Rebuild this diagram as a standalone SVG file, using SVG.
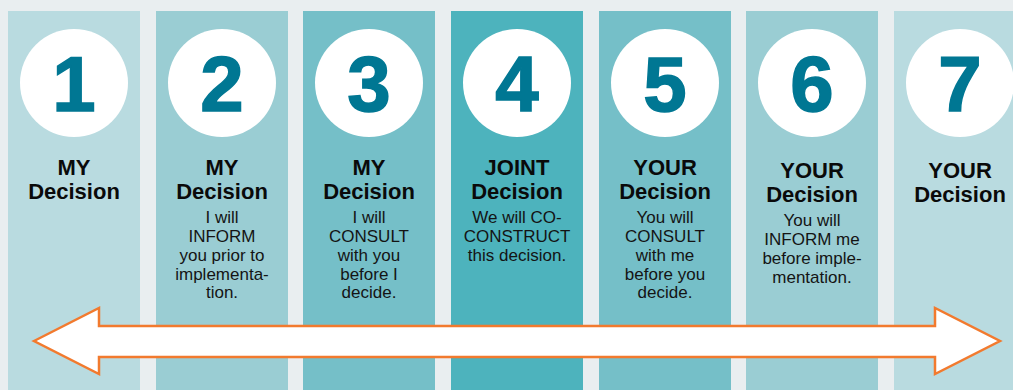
<svg xmlns="http://www.w3.org/2000/svg" width="1013" height="390" viewBox="0 0 1013 390">
  <style>
    .bg { fill: #e9eef0; }
    .c1 { fill: #b9dbe0; }
    .c2 { fill: #9acdd3; }
    .c3 { fill: #75bfc8; }
    .c4 { fill: #4db3bd; }
    .disc { fill: #ffffff; }
    .num { font-family: "Liberation Sans", Arial, sans-serif; font-weight: bold; font-size: 78px; fill: #007793; text-anchor: middle; stroke: #007793; stroke-width: 1.5; }
    .title { font-family: "Liberation Sans", Arial, sans-serif; font-weight: bold; font-size: 22px; fill: #0a0a0a; text-anchor: middle; }
    .body { font-family: "Liberation Sans", Arial, sans-serif; font-size: 17px; fill: #141414; text-anchor: middle; }
    .arrow { fill: #ffffff; stroke: #f27a2e; stroke-width: 2.5; stroke-linejoin: miter; }
  </style>

  <rect class="bg" x="0" y="0" width="1013" height="390"/>

  <!-- 1 -->
  <g id="step1">
    <rect class="c1" x="8" y="11" width="132" height="379"/>
    <circle class="disc" cx="74" cy="83" r="54"/>
    <text class="num" x="74" y="111">1</text>
    <text class="title" x="74" y="175">MY</text>
    <text class="title" x="74" y="199">Decision</text>
  </g>

  <!-- 2 -->
  <g id="step2">
    <rect class="c2" x="156" y="11" width="132" height="379"/>
    <circle class="disc" cx="222" cy="83" r="54"/>
    <text class="num" x="222" y="111">2</text>
    <text class="title" x="222" y="175">MY</text>
    <text class="title" x="222" y="199">Decision</text>
    <text class="body" x="222" y="223">I will</text>
    <text class="body" x="222" y="242">INFORM</text>
    <text class="body" x="222" y="261">you prior to</text>
    <text class="body" x="222" y="280">implementa-</text>
    <text class="body" x="222" y="298">tion.</text>
  </g>

  <!-- 3 -->
  <g id="step3">
    <rect class="c3" x="303" y="11" width="132" height="379"/>
    <circle class="disc" cx="369" cy="83" r="54"/>
    <text class="num" x="369" y="111">3</text>
    <text class="title" x="369" y="175">MY</text>
    <text class="title" x="369" y="199">Decision</text>
    <text class="body" x="369" y="223">I will</text>
    <text class="body" x="369" y="242">CONSULT</text>
    <text class="body" x="369" y="261">with you</text>
    <text class="body" x="369" y="280">before I</text>
    <text class="body" x="369" y="298">decide.</text>
  </g>

  <!-- 4 -->
  <g id="step4">
    <rect class="c4" x="451" y="11" width="132" height="379"/>
    <circle class="disc" cx="517" cy="83" r="54"/>
    <text class="num" x="517" y="111">4</text>
    <text class="title" x="517" y="175">JOINT</text>
    <text class="title" x="517" y="199">Decision</text>
    <text class="body" x="517" y="223">We will CO-</text>
    <text class="body" x="517" y="242">CONSTRUCT</text>
    <text class="body" x="517" y="261">this decision.</text>
  </g>

  <!-- 5 -->
  <g id="step5">
    <rect class="c3" x="599" y="11" width="132" height="379"/>
    <circle class="disc" cx="665" cy="83" r="54"/>
    <text class="num" x="665" y="111">5</text>
    <text class="title" x="665" y="175">YOUR</text>
    <text class="title" x="665" y="199">Decision</text>
    <text class="body" x="665" y="223">You will</text>
    <text class="body" x="665" y="242">CONSULT</text>
    <text class="body" x="665" y="261">with me</text>
    <text class="body" x="665" y="280">before you</text>
    <text class="body" x="665" y="298">decide.</text>
  </g>

  <!-- 6 -->
  <g id="step6">
    <rect class="c2" x="746" y="11" width="132" height="379"/>
    <circle class="disc" cx="812" cy="83" r="54"/>
    <text class="num" x="812" y="111">6</text>
    <text class="title" x="812" y="178">YOUR</text>
    <text class="title" x="812" y="202">Decision</text>
    <text class="body" x="812" y="226">You will</text>
    <text class="body" x="812" y="245">INFORM me</text>
    <text class="body" x="812" y="264">before imple-</text>
    <text class="body" x="812" y="283">mentation.</text>
  </g>

  <!-- 7 -->
  <g id="step7">
    <rect class="c1" x="894" y="11" width="132" height="379"/>
    <circle class="disc" cx="960" cy="83" r="54"/>
    <text class="num" x="960" y="111">7</text>
    <text class="title" x="960" y="178">YOUR</text>
    <text class="title" x="960" y="202">Decision</text>
  </g>

  <!-- double-headed scale arrow -->
  <g id="connectors">
    <path class="arrow" d="M34,341 L99,308 L99,326 L935,326 L935,308 L1000,341 L935,374 L935,357 L99,357 L99,374 Z"/>
  </g>
</svg>
